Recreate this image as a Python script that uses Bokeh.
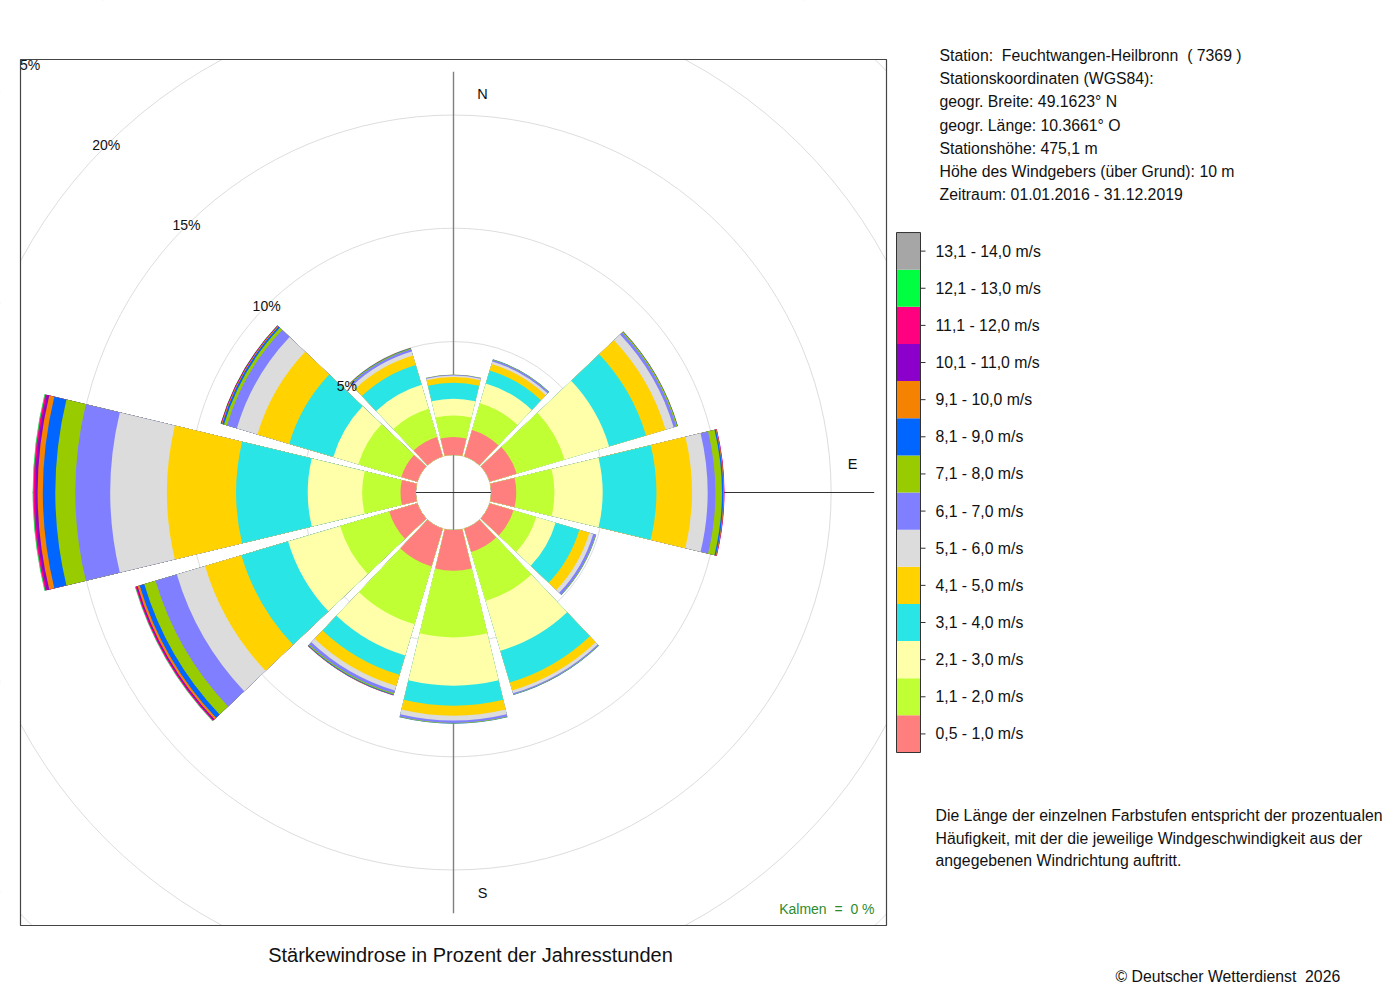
import math
import numpy as np
from bokeh.plotting import figure
from bokeh.models import Range1d
from bokeh.core.properties import value
from bokeh.embed import file_html
from bokeh.resources import INLINE

# ---------------- data ----------------
directions = [0, 30, 60, 90, 120, 150, 180, 210, 240, 270, 300, 330]

speed_labels = ["0,5 - 1,0 m/s", "1,1 - 2,0 m/s", "2,1 - 3,0 m/s", "3,1 - 4,0 m/s",
                "4,1 - 5,0 m/s", "5,1 - 6,0 m/s", "6,1 - 7,0 m/s", "7,1 - 8,0 m/s",
                "8,1 - 9,0 m/s", "9,1 - 10,0 m/s", "10,1 - 11,0 m/s", "11,1 - 12,0 m/s",
                "12,1 - 13,0 m/s", "13,1 - 14,0 m/s"]
speed_colors = ["#FF7F7F", "#BFFF33", "#FFFFAA", "#2AE5E5", "#FFD200", "#DCDCDC",
                "#7F7FFF", "#99CC00", "#0066FF", "#F58200", "#8C00CC", "#FF0080",
                "#00FF40", "#A6A6A6"]

# percent of hours per direction (N, 30, 60, E, 120, 150, S, 210, 240, W, 300, 330)
v_0_5_1_0 = [0.79, 1.22, 1.25, 1.11, 1.10, 1.08, 1.79, 1.75, 1.30, 0.68, 0.74, 0.90]
v_1_1_2_0 = [0.95, 1.23, 2.20, 1.68, 1.05, 2.25, 2.94, 2.65, 2.26, 1.69, 1.98, 1.30]
v_2_1_3_0 = [0.74, 0.91, 2.05, 2.13, 0.89, 2.29, 2.13, 1.44, 2.39, 2.40, 1.15, 1.10]
v_3_1_4_0 = [0.70, 0.59, 1.70, 2.37, 1.09, 1.46, 0.88, 0.89, 2.15, 3.16, 2.03, 0.91]
v_4_1_5_0 = [0.25, 0.30, 0.90, 1.57, 0.46, 0.37, 0.44, 0.51, 1.67, 3.05, 1.46, 0.43]
v_5_1_6_0 = [0.07, 0.12, 0.37, 0.69, 0.18, 0.13, 0.22, 0.21, 1.30, 2.50, 0.95, 0.19]
v_6_1_7_0 = [0.03, 0.07, 0.12, 0.34, 0.11, 0.05, 0.10, 0.13, 0.98, 1.54, 0.45, 0.10]
v_7_1_8_0 = [0.02, 0.02, 0.05, 0.29, 0.02, 0.02, 0.03, 0.05, 0.52, 0.88, 0.14, 0.04]
v_8_1_9_0 = [0.00, 0.01, 0.02, 0.06, 0.01, 0.01, 0.01, 0.03, 0.21, 0.55, 0.08, 0.02]
v_9_1_10_0 = [0.00, 0.00, 0.01, 0.03, 0.00, 0.00, 0.00, 0.01, 0.10, 0.23, 0.04, 0.01]
v_10_1_11_0 = [0.00, 0.00, 0.00, 0.01, 0.00, 0.00, 0.00, 0.01, 0.05, 0.11, 0.02, 0.00]
v_11_1_12_0 = [0.00, 0.00, 0.00, 0.01, 0.00, 0.00, 0.00, 0.00, 0.04, 0.07, 0.01, 0.00]
v_12_1_13_0 = [0.00, 0.00, 0.00, 0.00, 0.00, 0.00, 0.00, 0.00, 0.02, 0.03, 0.01, 0.00]
v_13_1_14_0 = [0.00, 0.00, 0.00, 0.00, 0.00, 0.00, 0.00, 0.00, 0.01, 0.01, 0.00, 0.00]

class_values = [v_0_5_1_0, v_1_1_2_0, v_2_1_3_0, v_3_1_4_0, v_4_1_5_0, v_5_1_6_0,
                v_6_1_7_0, v_7_1_8_0, v_8_1_9_0, v_9_1_10_0, v_10_1_11_0,
                v_11_1_12_0, v_12_1_13_0, v_13_1_14_0]

ring_ticks = [5, 10, 15, 20, 25]
grid_rings = [0, 5, 10, 15, 20, 25, 30]
calm_percent = 0

NB = "\u00a0"
station_lines = [f"Station:{NB} Feuchtwangen-Heilbronn{NB} ( 7369 )",
                 "Stationskoordinaten (WGS84):",
                 "geogr. Breite: 49.1623\u00b0 N",
                 "geogr. L\u00e4nge: 10.3661\u00b0 O",
                 "Stationsh\u00f6he: 475,1 m",
                 "H\u00f6he des Windgebers (\u00fcber Grund): 10 m",
                 "Zeitraum: 01.01.2016 - 31.12.2019"]
note_lines = ["Die L\u00e4nge der einzelnen Farbstufen entspricht der prozentualen",
              "H\u00e4ufigkeit, mit der die jeweilige Windgeschwindigkeit aus der",
              "angegebenen Windrichtung auftritt."]
title_text = "St\u00e4rkewindrose in Prozent der Jahresstunden"
copyright_text = f"\u00a9 Deutscher Wetterdienst{NB} 2026"

# ---------------- layout ----------------
FW, FH = 1392, 992
PX_PER_PCT = 22.67
CX, CY = 453, 492          # rose centre in canvas px
HOLE = 37.6 / PX_PER_PCT   # empty centre, in percent units
HALF_W = 13.5              # half sector width, degrees
FONT = value("Liberation Sans")

p = figure(width=FW, height=FH, x_range=Range1d(0, FW), y_range=Range1d(FH, 0),
           output_backend="svg", toolbar_location=None, min_border=0,
           x_axis_location=None, y_axis_location=None)
p.grid.visible = False
p.outline_line_color = None
p.background_fill_color = "white"
p.border_fill_color = "white"

p.extra_x_ranges = {"rx": Range1d(-CX / PX_PER_PCT, (FW - CX) / PX_PER_PCT)}
p.extra_y_ranges = {"ry": Range1d(-(FH - CY) / PX_PER_PCT, CY / PX_PER_PCT)}
R = dict(x_range_name="rx", y_range_name="ry")

# grid rings
p.circle(x=[0] * len(grid_rings), y=[0] * len(grid_rings),
         radius=[HOLE + g for g in grid_rings],
         fill_color=None, line_color="#DDDDDD", line_width=1, **R)

# axis cross
vals = np.array(class_values)
totals = vals.sum(axis=0)
L = HOLE + totals.max()
p.segment(x0=[0], y0=[-L], x1=[0], y1=[L], line_color="#808080", line_width=1.4, **R)
p.segment(x0=[-L], y0=[0], x1=[L], y1=[0], line_color="#333333", line_width=1, **R)

# compass labels
off = 29 / PX_PER_PCT
rl = 399 / PX_PER_PCT
p.text(x=[off, rl, off], y=[rl, off * 0.97, -rl - 0.05], text=["N", "E", "S"],
       text_font=FONT, text_font_size="14.5px", text_color="#111111",
       text_align="center", text_baseline="middle", **R)

# wedges: draw cumulative from outermost class inward (no seams)
ang = np.array(directions, dtype=float)
start = np.radians(90 - ang - HALF_W)
end = np.radians(90 - ang + HALF_W)
cum = np.cumsum(vals, axis=0)
for k in range(len(class_values) - 1, -1, -1):
    m = vals[k] > 0
    p.annular_wedge(x=np.zeros(m.sum()), y=np.zeros(m.sum()),
                    inner_radius=HOLE, outer_radius=HOLE + cum[k][m],
                    start_angle=start[m], end_angle=end[m], direction="anticlock",
                    fill_color=speed_colors[k], line_color=None, **R)

# ring labels along NW
c45 = math.cos(math.radians(45))
p.text(x=[-(HOLE + t) * c45 for t in ring_ticks], y=[(HOLE + t) * c45 for t in ring_ticks],
       text=[f"{t}%" for t in ring_ticks], text_font=FONT, text_font_size="14px",
       text_color="#111111", text_align="center", text_baseline="middle", **R)

# clip masks (everything outside the rose box)
BL, BR, BT, BB = 20, 886, 59, 925
E = 60
p.quad(left=[-E, BR, -E, -E], right=[BL, FW + E, FW + E, FW + E],
       top=[-E, -E, -E, BB], bottom=[FH + E, FH + E, BT, FH + E],
       fill_color="white", line_color=None)
p.quad(left=[BL], right=[BR], top=[BT], bottom=[BB], fill_color=None,
       line_color="#444444", line_width=1.2)

# calm
p.text(x=[874], y=[908], text=[f"Kalmen{NB} ={NB} {calm_percent} %"], text_font=FONT,
       text_font_size="14px", text_color="#2E8B2E", text_align="right",
       text_baseline="middle")

# title
p.text(x=[470], y=[954], text=[title_text], text_font=FONT, text_font_size="20px",
       text_color="#111111", text_align="center", text_baseline="middle")

# station info
p.text(x=[939] * len(station_lines), y=[55 + i * 23.17 for i in range(len(station_lines))],
       text=station_lines, text_font=FONT, text_font_size="15.8px", text_color="#111111",
       text_align="left", text_baseline="middle")

# legend colour bar
n = len(speed_labels)
cell = 37.14
lb_bottom = 752
tops = [lb_bottom - (i + 1) * cell for i in range(n)]
bots = [lb_bottom - i * cell for i in range(n)]
p.quad(left=[896] * n, right=[920] * n, top=tops, bottom=bots, fill_color=speed_colors,
       line_color=None)
p.quad(left=[896], right=[920], top=[tops[-1]], bottom=[lb_bottom], fill_color=None,
       line_color="#333333", line_width=1)
mids = [(t + b) / 2 for t, b in zip(tops, bots)]
p.segment(x0=[920] * n, y0=mids, x1=[925] * n, y1=mids, line_color="#333333", line_width=1)
p.text(x=[935] * n, y=mids, text=speed_labels, text_font=FONT, text_font_size="15.8px",
       text_color="#111111", text_align="left", text_baseline="middle")

# note
p.text(x=[935] * len(note_lines), y=[815 + i * 22.7 for i in range(len(note_lines))],
       text=note_lines, text_font=FONT, text_font_size="15.8px", text_color="#111111",
       text_align="left", text_baseline="middle")

# copyright
p.text(x=[1115], y=[976], text=[copyright_text], text_font=FONT, text_font_size="15.8px",
       text_color="#111111", text_align="left", text_baseline="middle")

open("out.html", "w").write(file_html(p, INLINE))
